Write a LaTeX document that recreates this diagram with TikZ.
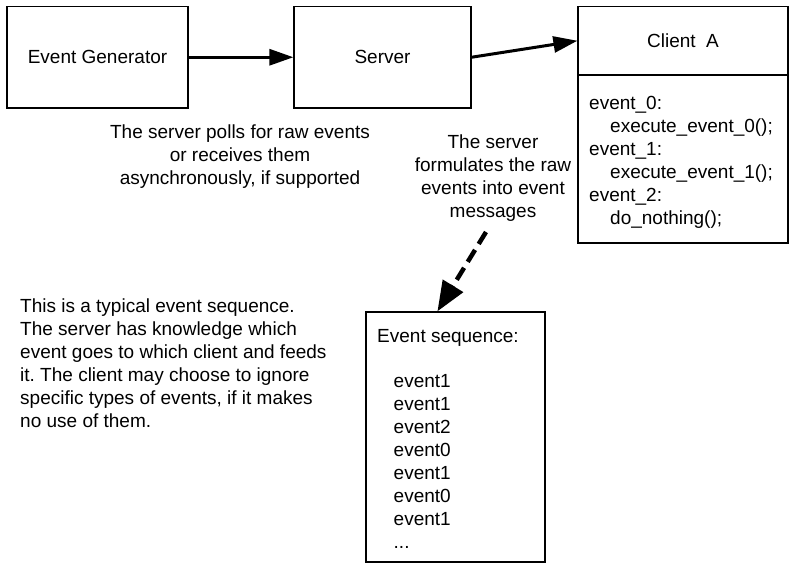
\documentclass[tikz,border=0pt]{standalone}
\usepackage{fontspec}
\setmainfont{Liberation Sans}
\usetikzlibrary{arrows.meta,calc}
\frenchspacing

\tikzset{
  box/.style={draw, line width=1.2pt, inner sep=0pt, minimum width=#1},
  txt/.style={inner sep=0pt, font=\fontsize{19}{23}\selectfont},
  link/.style={line width=3pt, -{Triangle[length=24pt,width=16pt]}},
  feed/.style={line width=4.5pt, dash pattern=on 14pt off 7pt,
               -{Triangle[length=30pt,width=23pt]}},
}

\begin{document}
\begin{tikzpicture}[x=1pt,y=-1pt]
  \fill[white] (0,0) rectangle (789,564);
  \useasboundingbox (0,0) rectangle (789,564);

  % top row: generator, server, client
  \node[box=181pt, minimum height=101.5pt, txt] (gen) at (97.5,57.25) {Event Generator};
  \node[box=177pt, minimum height=101.5pt, txt] (srv) at (382.5,57.25) {Server};
  \node[box=210pt, minimum height=68.5pt, txt] (cli) at (683,40.75) {Client~~A};
  \node[box=210pt, minimum height=168pt] (clibody) at (683,159) {};

  % handler table of the client
  \node[txt, anchor=north west, align=left] (handlers) at (589,92.7)
    {\strut event\_0:\\
     \hspace{21pt}execute\_event\_0();\\
     event\_1:\\
     \hspace{21pt}execute\_event\_1();\\
     event\_2:\\
     \hspace{21pt}do\_nothing();};

  % connectors between the top boxes
  \draw[link] (gen.east) -- (srv.west);
  \draw[link] (srv.east) -- (cli.west);

  % explanatory labels
  \node[txt, anchor=north, align=center] (polls) at (240,122.7)
    {\strut The server polls for raw events\\
     or receives them\\
     asynchronously, if supported};
  \node[txt, anchor=north, align=center] (formulates) at (493,132.5)
    {\strut The server\\
     formulates the raw\\
     events into event\\
     messages};
  \node[txt, anchor=north west, align=left] (typical) at (20,295.7)
    {\strut This is a typical event sequence.\\
     The server has knowledge which\\
     event goes to which client and feeds\\
     it. The client may choose to ignore\\
     specific types of events, if it makes\\
     no use of them.};

  % event sequence box
  \node[box=179pt, minimum height=250pt] (seq) at (455.5,437) {};
  \node[txt, anchor=north west] (seqtitle) at (377,325.7) {\strut Event sequence:};
  \node[txt, anchor=north west, align=left] (seqlist) at (393.5,371.3)
    {\strut event1\\ event1\\ event2\\ event0\\ event1\\ event0\\ event1\\ ...};

  % dashed feed from the server label to the sequence
  \coordinate (feedstart) at (486,232);
  \coordinate (feedend) at ($(seq.north west)+(72,0)$);
  \draw[feed] (feedstart) -- (feedend);
\end{tikzpicture}
\end{document}
